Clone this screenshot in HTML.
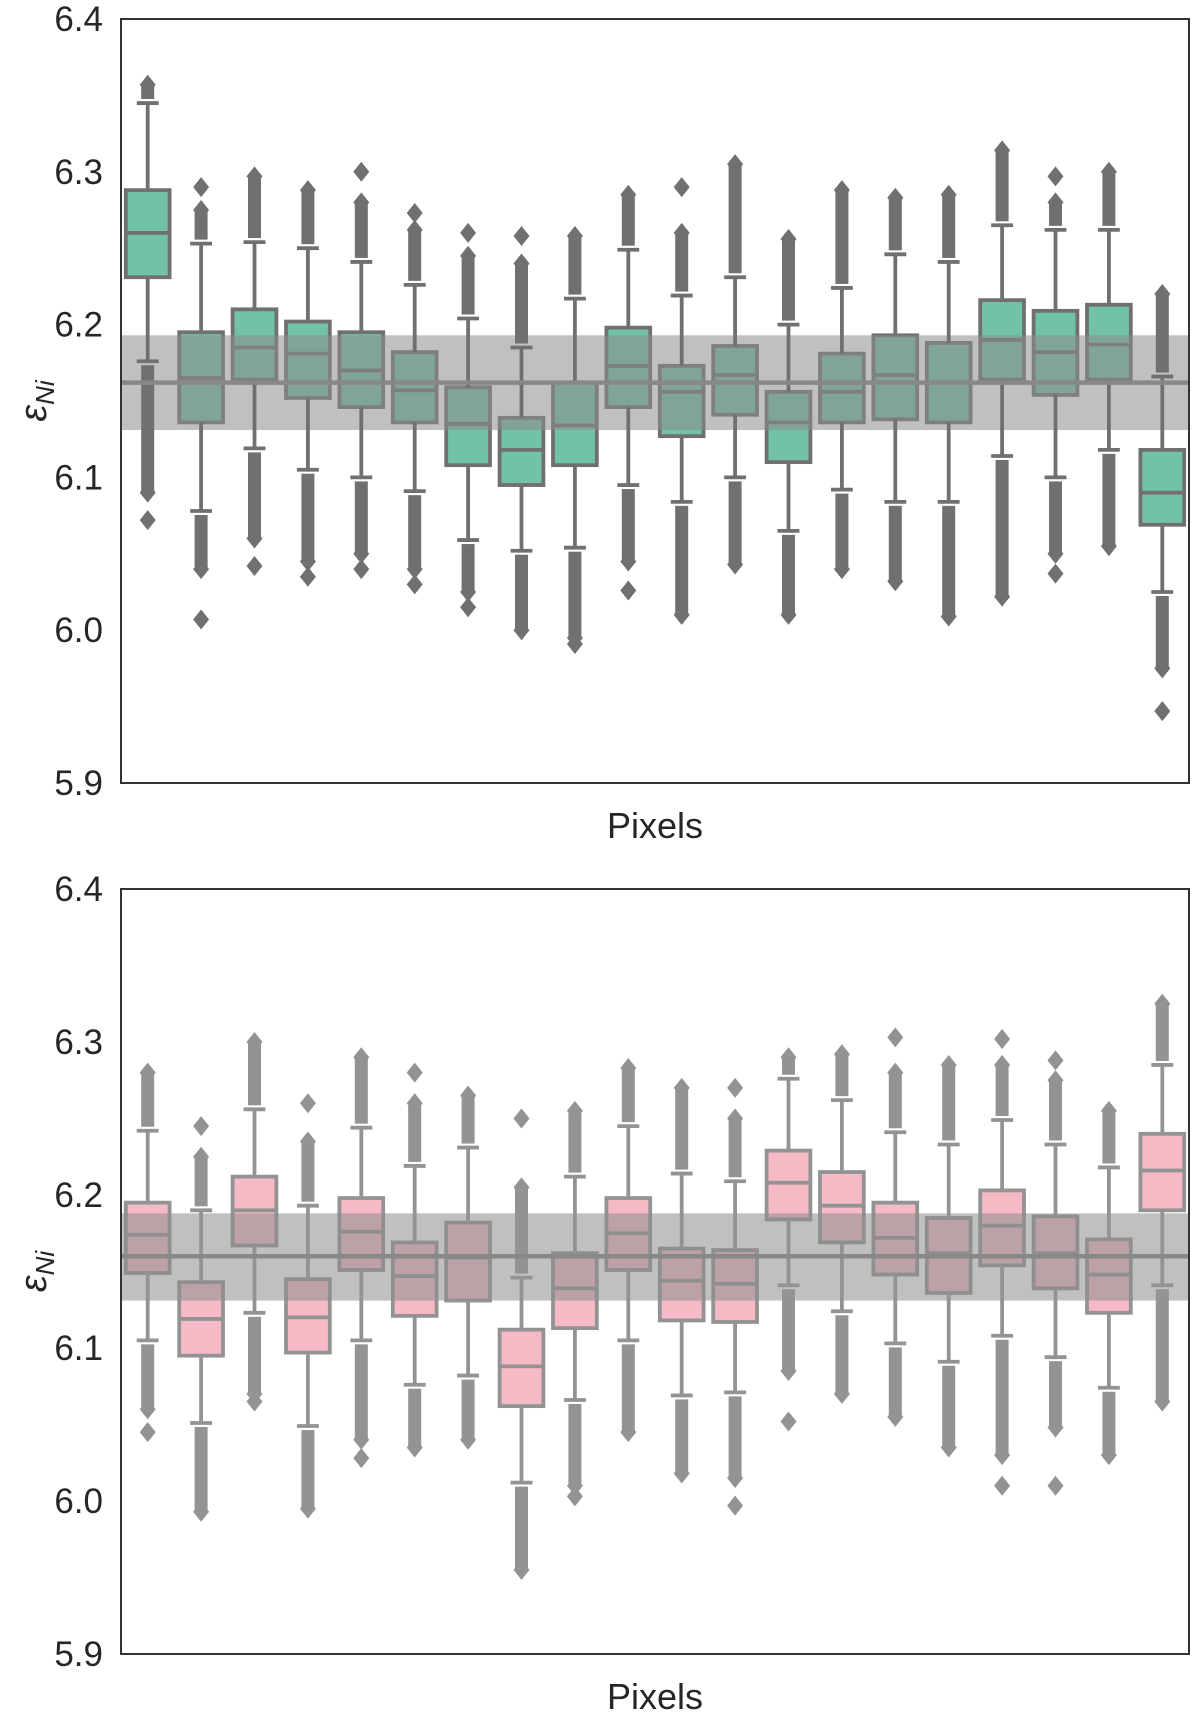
<!DOCTYPE html>
<html><head><meta charset="utf-8"><style>
html,body{margin:0;padding:0;background:#fff;}
svg{display:block;font-family:"Liberation Sans",Arial,sans-serif;}
</style></head><body>
<svg id="chart" width="1200" height="1723" viewBox="0 0 1200 1723" xmlns="http://www.w3.org/2000/svg"></svg>
<script>
// ---- top panel data ----
const topQ1 = [6.231,6.136,6.164,6.152,6.146,6.136,6.108,6.095,6.108,6.146,6.127,6.141,6.110,6.136,6.138,6.136,6.164,6.154,6.164,6.069];
const topMed = [6.260,6.165,6.185,6.181,6.170,6.157,6.135,6.118,6.134,6.173,6.156,6.167,6.136,6.156,6.167,6.162,6.190,6.182,6.187,6.090];
const topQ3 = [6.288,6.195,6.210,6.202,6.195,6.182,6.159,6.139,6.162,6.198,6.173,6.186,6.156,6.181,6.193,6.188,6.216,6.209,6.213,6.118];
const topWhiskHi = [6.345,6.253,6.254,6.250,6.241,6.226,6.204,6.185,6.217,6.249,6.219,6.231,6.200,6.224,6.246,6.241,6.265,6.262,6.262,6.166];
const topWhiskLo = [6.176,6.078,6.119,6.105,6.100,6.091,6.059,6.052,6.054,6.095,6.084,6.100,6.065,6.092,6.084,6.084,6.114,6.100,6.118,6.025];
const topOutHi = [6.357,6.275,6.297,6.288,6.280,6.262,6.245,6.240,6.258,6.285,6.260,6.305,6.256,6.288,6.283,6.285,6.314,6.280,6.300,6.220];
const topOutHiIso = [null,6.290,null,null,6.300,6.273,6.260,6.258,null,null,6.290,null,null,null,null,null,null,6.297,null,null];
const topOutLo = [6.090,6.040,6.060,6.045,6.050,6.040,6.025,6.000,5.995,6.045,6.010,6.043,6.010,6.040,6.032,6.009,6.022,6.050,6.055,5.975];
const topOutLoIso = [6.072,6.007,6.042,6.035,6.040,6.030,6.015,null,5.991,6.026,null,null,null,null,null,null,null,6.037,null,5.947];
const topBand = [6.131, 6.193];
const topMean = 6.162;
// ---- bottom panel data ----
const botQ1 = [6.149,6.095,6.167,6.097,6.151,6.121,6.131,6.062,6.113,6.151,6.118,6.117,6.184,6.169,6.148,6.136,6.154,6.139,6.123,6.190];
const botMed = [6.174,6.119,6.190,6.120,6.176,6.147,6.159,6.088,6.139,6.175,6.144,6.142,6.208,6.193,6.172,6.162,6.180,6.162,6.148,6.216];
const botQ3 = [6.195,6.143,6.212,6.145,6.198,6.169,6.182,6.112,6.162,6.198,6.165,6.164,6.229,6.215,6.195,6.185,6.203,6.186,6.171,6.240];
const botWhiskHi = [6.242,6.190,6.256,6.193,6.244,6.219,6.231,6.146,6.212,6.245,6.214,6.209,6.276,6.262,6.241,6.233,6.249,6.233,6.218,6.285];
const botWhiskLo = [6.105,6.051,6.123,6.049,6.105,6.076,6.082,6.012,6.066,6.105,6.069,6.071,6.141,6.124,6.103,6.091,6.108,6.094,6.074,6.141];
const botOutHi = [6.280,6.225,6.300,6.235,6.290,6.260,6.265,6.205,6.255,6.283,6.270,6.250,6.290,6.292,6.280,6.285,6.285,6.275,6.255,6.325];
const botOutHiIso = [null,6.245,null,6.260,null,6.280,null,6.250,null,null,null,6.270,null,null,6.303,null,6.302,6.288,null,null];
const botOutLo = [6.060,5.993,6.070,5.995,6.040,6.035,6.040,5.955,6.010,6.045,6.018,6.015,6.085,6.070,6.055,6.035,6.030,6.048,6.030,6.065];
const botOutLoIso = [6.045,null,6.065,null,6.028,null,null,null,6.003,null,null,5.997,6.052,null,null,null,6.010,6.010,null,null];
const botBand = [6.131, 6.188];
const botMean = 6.160;
const yTicks = ["5.9","6.0","6.1","6.2","6.3","6.4"];

const NS = "http://www.w3.org/2000/svg";
const svg = document.getElementById('chart');
function mk(tag, attrs, parent){
  const e = document.createElementNS(NS, tag);
  for (const k in attrs) e.setAttribute(k, attrs[k]);
  (parent||svg).appendChild(e);
  return e;
}
const X0 = 121, X1 = 1189, N = 20, STEP = (X1-X0)/N;
function xc(i){ return X0 + STEP*(i+0.5); }
const LW = 3.8;

function panel(cfg){
  const top = cfg.top, bottom = cfg.bottom;
  const y = v => bottom - (v-5.9)/0.5*(bottom-top);
  const g = mk('g', {});
  
  
  const bw = STEP*0.82;
  for (let i=0;i<N;i++){
    const r = mk('rect', {x:xc(i)-bw/2, y:y(cfg.q3[i]), width:bw, height:y(cfg.q1[i])-y(cfg.q3[i]), fill:cfg.fill, stroke:cfg.edge, 'stroke-width':LW}, g);
    
    
    const m = mk('line', {x1:xc(i)-bw/2, x2:xc(i)+bw/2, y1:y(cfg.med[i]), y2:y(cfg.med[i]), stroke:cfg.edge, 'stroke-width':LW}, g);
    
    
  }
  const b = mk('rect', {x:X0, y:y(cfg.band[1]), width:X1-X0, height:y(cfg.band[0])-y(cfg.band[1]), fill:'rgba(140,140,140,0.55)'}, g);
  
  
  function diamond(cx, cy){
    const d = mk('path', {d:`M${cx},${cy-10}L${cx+8},${cy}L${cx},${cy+10}L${cx-8},${cy}Z`, fill:cfg.edge}, g);
    
    
  }
  for (let i=0;i<N;i++){
    const cx = xc(i);
    const w1 = mk('line', {x1:cx, x2:cx, y1:y(cfg.whi[i]), y2:y(cfg.q3[i]), stroke:cfg.edge, 'stroke-width':LW}, g);
    
    
    const w2 = mk('line', {x1:cx, x2:cx, y1:y(cfg.q1[i]), y2:y(cfg.wlo[i]), stroke:cfg.edge, 'stroke-width':LW}, g);
    
    
    for (const wv of [cfg.whi[i], cfg.wlo[i]]){
      mk('line', {x1:cx-bw/4, x2:cx+bw/4, y1:y(wv), y2:y(wv), stroke:cfg.edge, 'stroke-width':LW}, g);
    }
    const ya = y(cfg.ohi[i]), yb = y(cfg.whi[i]);
    mk('rect', {x:cx-6.5, y:ya, width:13, height:Math.max(0,yb-ya-4), fill:cfg.edge}, g);
    diamond(cx, ya);
    const yc = y(cfg.wlo[i]), yd = y(cfg.olo[i]);
    mk('rect', {x:cx-6.5, y:yc+4, width:13, height:Math.max(0,yd-yc-4), fill:cfg.edge}, g);
    diamond(cx, yd);
    if (cfg.ohiIso[i] !== null) diamond(cx, y(cfg.ohiIso[i]));
    if (cfg.oloIso[i] !== null) diamond(cx, y(cfg.oloIso[i]));
  }
  const ml = mk('line', {x1:X0, x2:X1, y1:y(cfg.mean), y2:y(cfg.mean), stroke:'#888', 'stroke-width':4.5}, g);
  
  
  const fr = mk('rect', {x:X0, y:top, width:X1-X0, height:bottom-top, fill:'none', stroke:'#333', 'stroke-width':2}, g);
  
  
  yTicks.forEach(t => {
    const tx = mk('text', {x:103, y:y(parseFloat(t))+12, 'text-anchor':'end', 'font-size':35, fill:'#262626'}, g);
    tx.textContent = t;
    
    
  });
  const cy = (top+bottom)/2;
  const yt = mk('text', {x:0, y:0, transform:`translate(46,${cy}) rotate(-90)`, 'text-anchor':'middle', 'font-size':38, 'font-style':'italic', fill:'#262626'}, g);
  yt.innerHTML = 'ε<tspan font-size="26" dy="8">Ni</tspan>';
  
  
  const xt = mk('text', {x:(X0+X1)/2, y:bottom+55, 'text-anchor':'middle', 'font-size':36, fill:'#262626'}, g);
  xt.textContent = 'Pixels';
  
  
}
panel({name:'top-panel', top:19, bottom:783, fill:'#72c2a6', edge:'#707070',
  q1:topQ1, med:topMed, q3:topQ3, whi:topWhiskHi, wlo:topWhiskLo, ohi:topOutHi, ohiIso:topOutHiIso, olo:topOutLo, oloIso:topOutLoIso, band:topBand, mean:topMean});
panel({name:'bottom-panel', top:889, bottom:1654, fill:'#f6bac6', edge:'#939393',
  q1:botQ1, med:botMed, q3:botQ3, whi:botWhiskHi, wlo:botWhiskLo, ohi:botOutHi, ohiIso:botOutHiIso, olo:botOutLo, oloIso:botOutLoIso, band:botBand, mean:botMean});
</script>
</body></html>
